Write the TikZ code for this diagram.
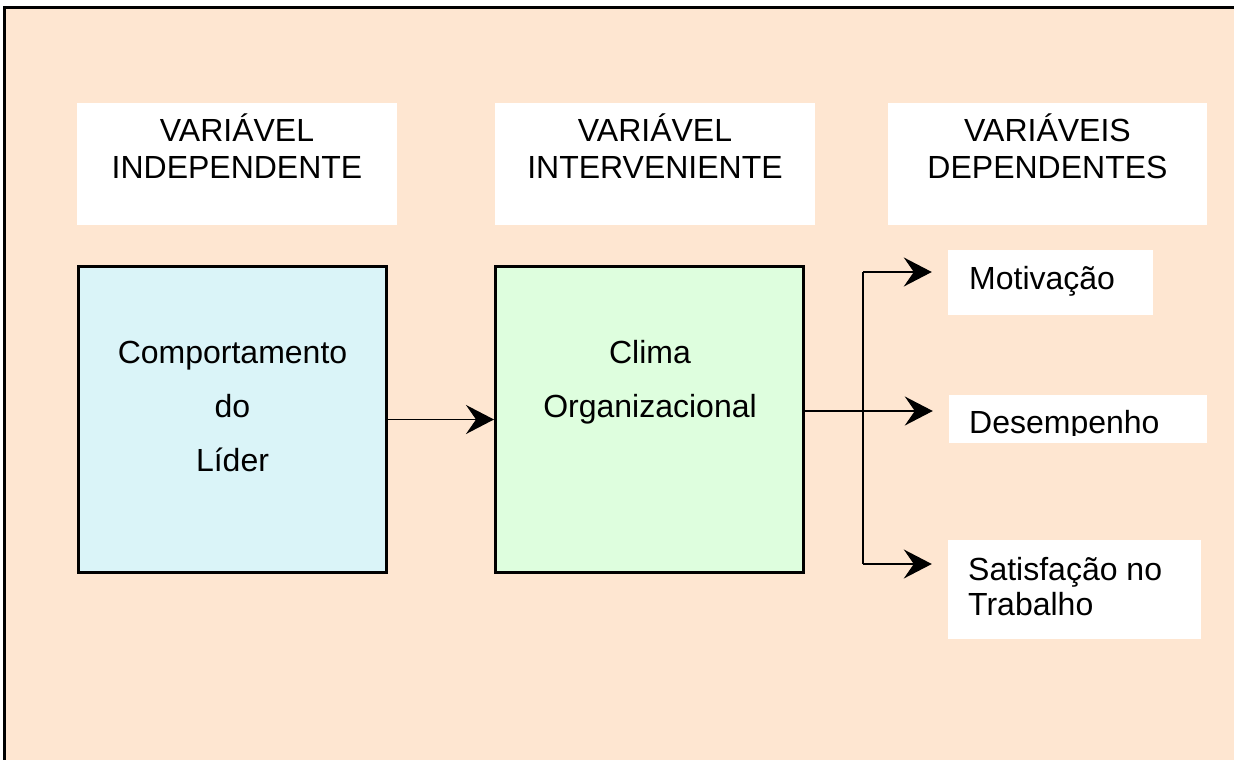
\documentclass[tikz,border=0pt]{standalone}
\usepackage{fontspec}
\setmainfont{Liberation Sans}
\usetikzlibrary{arrows.meta,calc}

\definecolor{peach}{HTML}{FEE6D1}
\definecolor{paleblue}{HTML}{DAF4F8}
\definecolor{palegreen}{HTML}{DEFEDE}

\tikzset{
  hdrbox/.style={fill=white, draw=none, inner sep=0pt,
                 minimum width=320pt, minimum height=122pt},
  varbox/.style={draw=black, line width=3pt, inner sep=0pt,
                 minimum width=308pt, minimum height=306pt},
  outbox/.style={fill=white, draw=none, inner sep=0pt},
  hdrtext/.style={inner sep=0pt, align=center,
                  font=\fontsize{32}{37}\selectfont},
  boxtext/.style={inner sep=0pt, align=center,
                  font=\fontsize{32}{54}\selectfont},
  outtext/.style={inner sep=0pt, align=left,
                  font=\fontsize{32}{35}\selectfont},
  wire/.style={line width=1.5pt},
  flow/.style={line width=1.5pt,
               -{Stealth[length=28pt,width=29pt,inset=10pt]}},
}

\begin{document}
\begin{tikzpicture}[x=1pt,y=-1pt]
  \useasboundingbox (0,0) rectangle (1234,760);
  \clip (0,0) rectangle (1234,760);

  % page background and the framed panel
  \fill[white] (0,0) rectangle (1234,760);
  \fill[peach] (4,8) rectangle (1250,780);
  \draw[line width=3pt] (4,780) -- (4,8) -- (1250,8);

  % column headings (base anchor sits on the last line)
  \node[hdrbox] (hd1) at (237,164) {};
  \node[hdrbox] (hd2) at (655,164) {};
  \node[hdrbox, minimum width=319pt] (hd3) at (1047.5,164) {};
  \node[hdrtext, anchor=base] (hd1t) at ($(hd1.north)+(0,76)$) {VARIÁVEL\\INDEPENDENTE};
  \node[hdrtext, anchor=base] (hd2t) at ($(hd2.north)+(0,76)$) {VARIÁVEL\\INTERVENIENTE};
  \node[hdrtext, anchor=base] (hd3t) at ($(hd3.north)+(0,76)$) {VARIÁVEIS\\DEPENDENTES};

  % independent and intervening variables
  \node[varbox, fill=paleblue] (lider) at (232.5,419.5) {};
  \node[varbox, fill=palegreen] (clima) at (649.5,419.5) {};
  \node[boxtext, anchor=base] (lidert) at (232.5,471) {Comportamento\\do\\Líder};
  \node[boxtext, anchor=base] (climat) at (650,417) {Clima\\Organizacional};

  % dependent variables
  \node[outbox, minimum width=205pt, minimum height=65pt] (mot) at (1050.5,282.5) {};
  \node[outbox, minimum width=258pt, minimum height=48pt] (des) at (1078,419) {};
  \node[outbox, minimum width=253pt, minimum height=99pt] (sat) at (1074.5,589.5) {};
  \node[outtext, anchor=base west] (mott) at (969,289) {Motivação};
  \begin{scope}
    % the label is cut off just below its baseline
    \clip (des.north west) rectangle ($(des.east |- 0,435)$);
    \node[outtext, anchor=base west] (dest) at (969,433) {Desempenho};
  \end{scope}
  \node[outtext, anchor=base west] (satt) at (968,615) {Satisfação no\\Trabalho};

  % connectors
  \coordinate (jmid) at (863,411);
  \coordinate (jtop) at (863,272);
  \coordinate (jbot) at (863,564);

  \draw[flow] (lider.east) -- (clima.west);
  \draw[flow] (clima.east |- jmid) -- ($(des.west |- jmid)+(-16,0)$);
  \draw[wire] (jtop) -- (jbot);
  \draw[flow] (jtop) -- ($(mot.west |- jtop)+(-16,0)$);
  \draw[flow] (jbot) -- ($(sat.west |- jbot)+(-16,0)$);
\end{tikzpicture}
\end{document}
